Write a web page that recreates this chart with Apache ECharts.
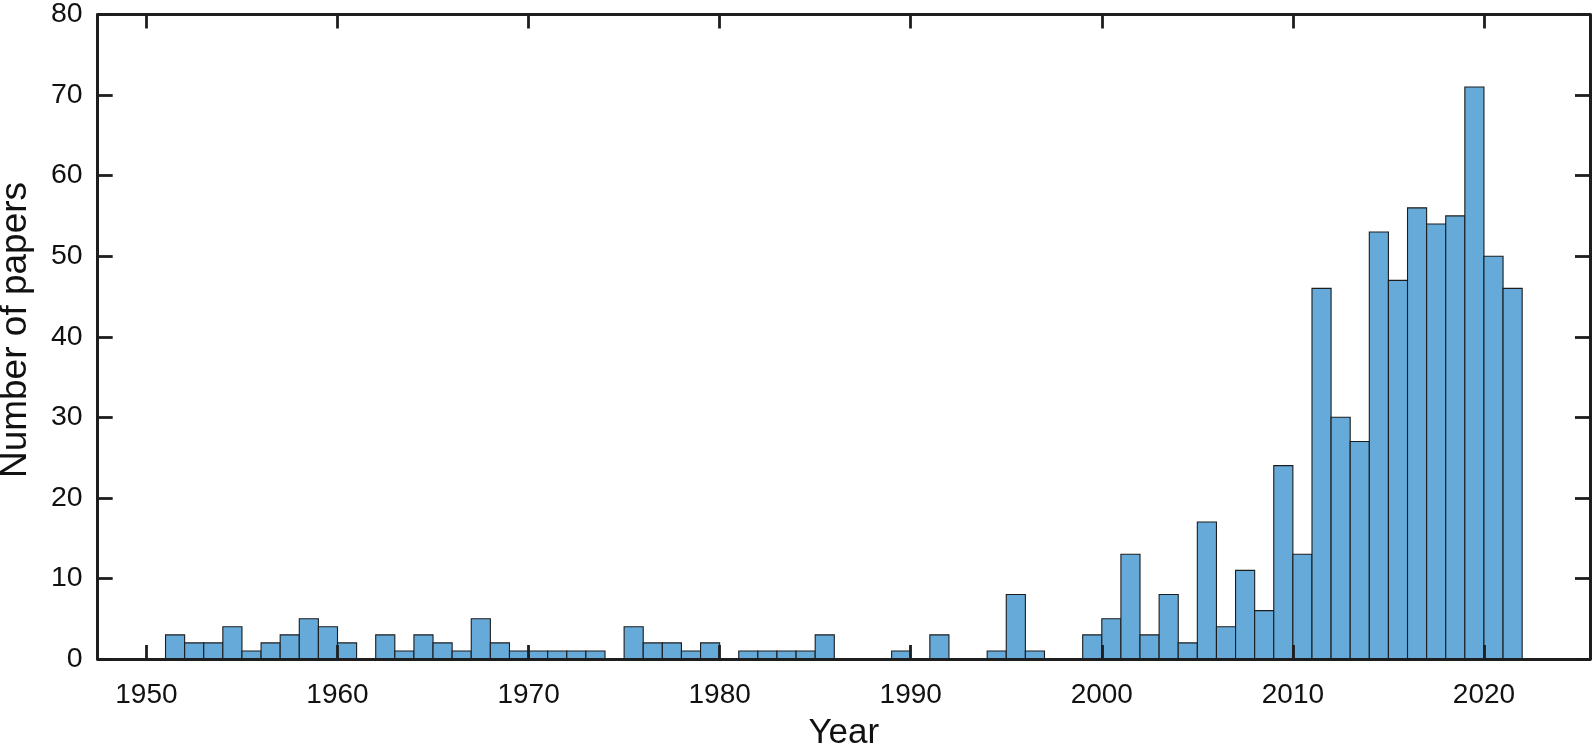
<!DOCTYPE html>
<html>
<head>
<meta charset="utf-8">
<script src="https://cdn.jsdelivr.net/npm/echarts@6/dist/echarts.min.js"></script>
<style>
  html, body { margin: 0; padding: 0; background: #ffffff; }
  #chart { width: 1594px; height: 756px; }
</style>
</head>
<body>
<div id="chart"></div>
<script>
// ---- data (bin start year, count) ----
const years = [
  1951,1952,1953,1954,1955,1956,1957,1958,1959,1960,
  1961,1962,1963,1964,1965,1966,1967,1968,1969,1970,
  1971,1972,1973,1974,1975,1976,1977,1978,1979,1980,
  1981,1982,1983,1984,1985,1986,1987,1988,1989,1990,
  1991,1992,1993,1994,1995,1996,1997,1998,1999,2000,
  2001,2002,2003,2004,2005,2006,2007,2008,2009,2010,
  2011,2012,2013,2014,2015,2016,2017,2018,2019,2020,
  2021
];
const counts = [
  3,2,2,4,1,2,3,5,4,2,
  0,3,1,3,2,1,5,2,1,1,
  1,1,1,0,4,2,2,1,2,0,
  1,1,1,1,3,0,0,0,1,0,
  3,0,0,1,8,1,0,0,3,5,
  13,3,8,2,17,4,11,6,24,13,
  46,30,27,53,47,56,54,55,71,50,
  46
];
const xTicks = [1950,1960,1970,1980,1990,2000,2010,2020];
const xTitle = 'Year';
const yTitle = 'Number of papers';
const binWidth = 1;

const chart = echarts.init(document.getElementById('chart'), null, {renderer: 'canvas'});
const font = '"Liberation Sans", Arial, Helvetica, sans-serif';
const axisColor = '#1e1e1e';

const data = years.map((y, i) => [y, counts[i]]);

function xAxisCommon(extra) {
  return Object.assign({
    type: 'value',
    min: 1947.45,
    max: 2025.55,
    axisLine: { show: true, onZero: false, lineStyle: { color: axisColor, width: 3 } },
    axisTick: { show: true, inside: true, length: 14, customValues: xTicks, lineStyle: { color: axisColor, width: 2.8 } },
    splitLine: { show: false },
    z: 10
  }, extra);
}
function yAxisCommon(extra) {
  return Object.assign({
    type: 'value',
    min: 0,
    max: 80,
    interval: 10,
    axisLine: { show: true, onZero: false, lineStyle: { color: axisColor, width: 3 } },
    axisTick: { show: true, inside: true, length: 15, lineStyle: { color: axisColor, width: 2.8 } },
    splitLine: { show: false },
    z: 10
  }, extra);
}

const option = {
  backgroundColor: '#ffffff',
  animation: false,
  grid: { left: 97.7, right: 4, top: 11, bottom: 91, containLabel: false },
  graphic: [{
    type: 'text',
    x: 15.5,
    y: 330,
    rotation: Math.PI / 2,
    style: {
      text: yTitle,
      fontFamily: font,
      fontSize: 37,
      fill: '#111',
      textAlign: 'center',
      textVerticalAlign: 'middle'
    }
  }],
  xAxis: [
    xAxisCommon({
      position: 'bottom',
      name: xTitle,
      nameLocation: 'middle',
      nameGap: 57,
      nameTextStyle: { fontFamily: font, fontSize: 35, color: '#111' },
      axisLabel: { show: true, customValues: xTicks, margin: 22, fontFamily: font, fontSize: 28, color: '#111',
                   formatter: v => String(v) }
    }),
    xAxisCommon({
      position: 'top',
      axisLabel: { show: false }
    })
  ],
  yAxis: [
    yAxisCommon({
      position: 'left',
      axisLabel: { show: true, margin: 15, fontFamily: font, fontSize: 28.5, color: '#111' }
    }),
    yAxisCommon({
      position: 'right',
      axisLabel: { show: false }
    })
  ],
  series: [{
    type: 'custom',
    xAxisIndex: 0,
    yAxisIndex: 0,
    data: data,
    z: 2,
    renderItem: function (params, api) {
      const x0 = api.value(0);
      const v = api.value(1);
      if (!v) return null;
      const p0 = api.coord([x0, 0]);
      const p1 = api.coord([x0 + binWidth, v]);
      return {
        type: 'rect',
        shape: { x: p0[0], y: p1[1], width: p1[0] - p0[0], height: p0[1] - p1[1] },
        style: { fill: '#66aad9', stroke: '#1c1c1c', lineWidth: 1.1 }
      };
    }
  }]
};
chart.setOption(option);
</script>
</body>
</html>
